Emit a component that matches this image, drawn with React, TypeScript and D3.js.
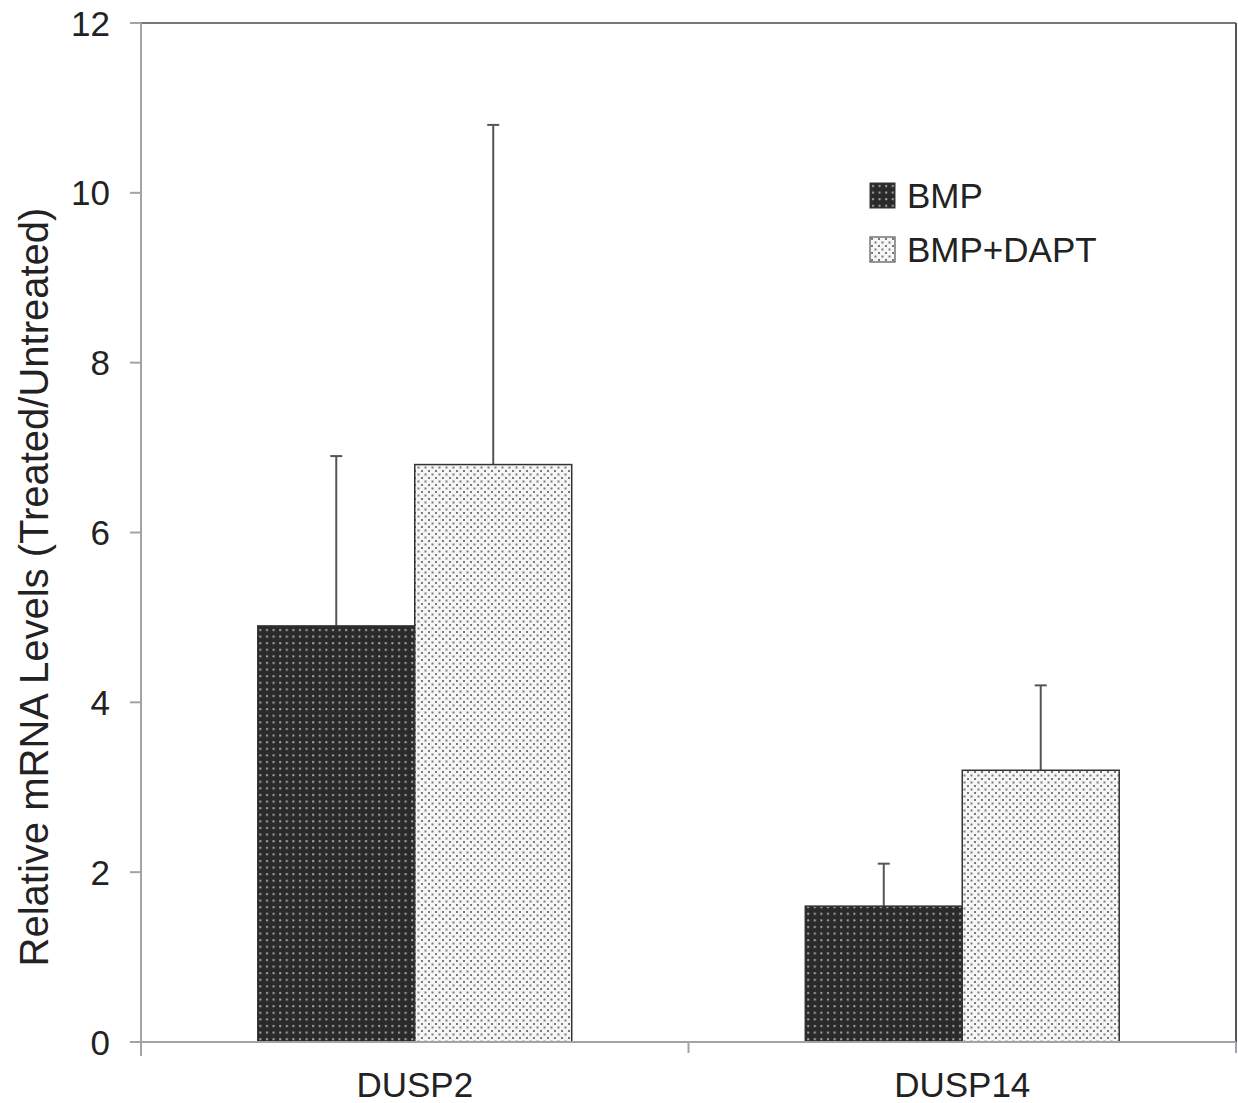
import React from "react";
import * as d3 from "d3";

const categories = ["DUSP2", "DUSP14"];
const seriesNames = ["BMP", "BMP+DAPT"];
const bmpValues = [4.9, 1.6];
const bmpErrors = [2.0, 0.5];
const daptValues = [6.8, 3.2];
const daptErrors = [4.0, 1.0];
const yTicks = [0, 2, 4, 6, 8, 10, 12];

const W = 1238;
const H = 1103;
const M = { left: 141, top: 23, right: 1236, bottom: 1042 };

export default function App() {
  const x = d3.scaleBand<string>().domain(categories).range([M.left, M.right]).padding(0);
  const xi = d3
    .scaleBand<string>()
    .domain(seriesNames)
    .range([0, x.bandwidth()])
    .paddingInner(0)
    .paddingOuter(0.744);
  const y = d3.scaleLinear().domain([0, 12]).range([M.bottom, M.top]);

  const series = [
    { name: seriesNames[0], values: bmpValues, errors: bmpErrors, fill: "url(#patDark)" },
    { name: seriesNames[1], values: daptValues, errors: daptErrors, fill: "url(#patLight)" },
  ];

  const font = "'Liberation Sans', Arial, sans-serif";
  const axisColor = "#a0a3a8";

  return (
    <svg width={W} height={H} style={{ position: "absolute", left: 0, top: 0 }} fontFamily={font}>
      <defs>
        <pattern id="patDark" patternUnits="userSpaceOnUse" width="6.6" height="6.6">
          <rect width="6.6" height="6.6" fill="#2b2a2a" />
          <rect x="2" y="2" width="2" height="2" fill="#a8a8a8" />
        </pattern>
        <pattern id="patLight" patternUnits="userSpaceOnUse" width="7" height="7">
          <rect width="7" height="7" fill="#f6f6f6" />
          <rect x="1" y="1" width="2" height="2" fill="#7a7a7a" />
          <rect x="4.5" y="4.5" width="2" height="2" fill="#7a7a7a" />
        </pattern>
      </defs>
      <rect width={W} height={H} fill="white" />

      {/* frame top and right */}
      <line x1={M.left} x2={M.right} y1={M.top} y2={M.top} stroke="#777" strokeWidth={2} />
      <line x1={M.right} x2={M.right} y1={M.top} y2={M.bottom} stroke="#555" strokeWidth={2} />

      {/* bars */}
      {series.map((s) =>
        categories.map((c, i) => {
          const x0 = (x(c) as number) + (xi(s.name) as number);
          const w = xi.bandwidth();
          const top = y(s.values[i]);
          const errTop = y(s.values[i] + s.errors[i]);
          const cx = x0 + w / 2;
          return (
            <g key={s.name + c}>
              <line x1={cx} x2={cx} y1={top} y2={errTop} stroke="#555" strokeWidth={2} />
              <line x1={cx - 6} x2={cx + 6} y1={errTop} y2={errTop} stroke="#555" strokeWidth={2} />
              <rect x={x0} y={top} width={w} height={M.bottom - top} fill={s.fill} stroke="#333" strokeWidth={1.5} />
            </g>
          );
        })
      )}

      {/* y axis */}
      <line x1={M.left} x2={M.left} y1={M.top} y2={M.bottom + 14} stroke={axisColor} strokeWidth={2} />
      {yTicks.map((t) => (
        <g key={t}>
          <line x1={M.left - 11} x2={M.left} y1={y(t)} y2={y(t)} stroke={axisColor} strokeWidth={2} />
          <text x={110} y={y(t)} dy="0.36em" textAnchor="end" fontSize={35} fill="#222">
            {t}
          </text>
        </g>
      ))}

      {/* x axis */}
      <line x1={M.left - 11} x2={M.right} y1={M.bottom} y2={M.bottom} stroke={axisColor} strokeWidth={2} />
      {[M.left, (x(categories[1]) as number), M.right].map((tx, i) => (
        <line key={i} x1={tx} x2={tx} y1={M.bottom} y2={M.bottom + 11} stroke={axisColor} strokeWidth={2} />
      ))}
      {categories.map((c) => (
        <text key={c} x={(x(c) as number) + x.bandwidth() / 2} y={1097} textAnchor="middle" fontSize={35} fill="#222">
          {c}
        </text>
      ))}

      {/* y title */}
      <text
        transform={`translate(48, 587) rotate(-90)`}
        textAnchor="middle"
        fontSize={40}
        fill="#222"
      >
        Relative mRNA Levels (Treated/Untreated)
      </text>

      {/* legend */}
      {series.map((s, i) => (
        <g key={s.name} transform={`translate(870, ${183 + i * 54})`}>
          <rect width={25} height={25} fill={s.fill} stroke="#333" strokeWidth={1} />
          <text x={37} y={12.5} dy="0.36em" fontSize={35} fill="#222">
            {s.name}
          </text>
        </g>
      ))}
    </svg>
  );
}
